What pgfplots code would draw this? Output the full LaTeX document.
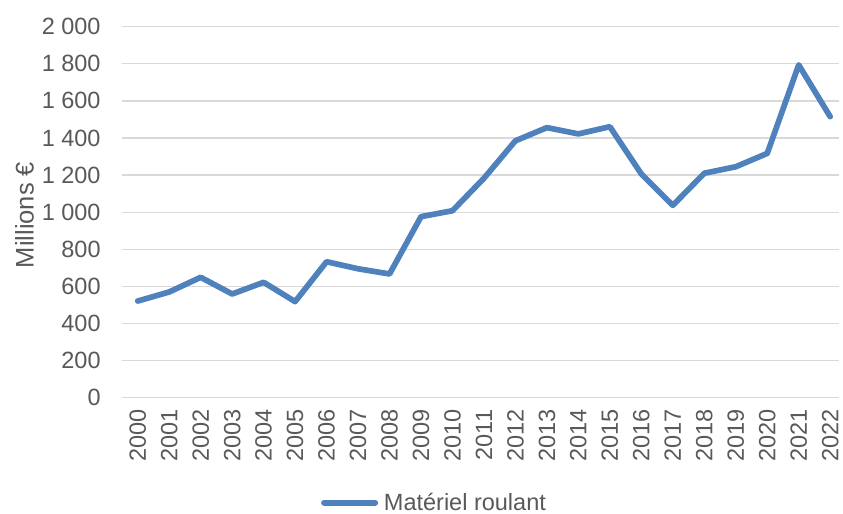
\documentclass[border=0pt]{standalone}
\usepackage{pgfplots}
\pgfplotsset{compat=1.18}
\usepackage{fontspec}
\setmainfont{Liberation Sans}
\definecolor{lineblue}{RGB}{79,129,189}
\definecolor{gridgray}{RGB}{217,217,217}
\definecolor{txtgray}{RGB}{89,89,89}
\begin{document}
\begin{tikzpicture}
\path[use as bounding box] (0,0) rectangle (843bp,514bp);
\begin{axis}[
  at={(122bp,116.3bp)}, anchor=south west,
  scale only axis, width=717bp, height=371bp,
  xmin=-0.5, xmax=22.28, ymin=0, ymax=2000,
  xtick={0,...,22},
  xticklabels={2000,2001,2002,2003,2004,2005,2006,2007,2008,2009,2010,2011,2012,2013,2014,2015,2016,2017,2018,2019,2020,2021,2022},
  ytick={0,200,...,2000},
  ymajorgrids, grid style={gridgray, line width=1.3bp},
  axis line style={draw=none}, major tick style={draw=none},
  /pgf/number format/assume math mode=true,
  /pgf/number format/1000 sep={~},
  tick label style={font=\fontsize{23.5bp}{28bp}\selectfont, text=txtgray, inner sep=0pt},
  xticklabel style={rotate=90, anchor=east},
  xticklabel shift=11.7bp,
  yticklabel shift=21.2bp,
  every axis y label/.style={at={(axis description cs:-0.1360,0.4925)}, rotate=90, anchor=center, inner sep=0pt, font=\fontsize{25.5bp}{30bp}\selectfont, text=txtgray},
  ylabel={Millions €},
  legend style={at={(axis description cs:0.2737,-0.2825)}, anchor=west, draw=none, fill=none, inner sep=0pt, outer sep=0pt, font=\fontsize{23.5bp}{28bp}\selectfont, text=txtgray, nodes={inner sep=0pt}},
  legend image code/.code={\path (0bp,0bp) (57bp,0bp); \draw[#1, line width=6bp, line cap=round] (3bp,0bp) -- (54bp,0bp);},
]
\addplot[lineblue, line width=5.7bp, line cap=round, line join=round] coordinates {
(0,521) (1,570) (2,649) (3,559) (4,622) (5,518) (6,733) (7,695) (8,667) (9,976) (10,1008) (11,1183) (12,1385) (13,1456) (14,1422) (15,1461) (16,1206) (17,1037) (18,1210) (19,1245) (20,1317) (21,1794) (22,1515)
};
\addlegendentry{\hspace{3bp}Matériel roulant}
\end{axis}
\end{tikzpicture}
\end{document}
